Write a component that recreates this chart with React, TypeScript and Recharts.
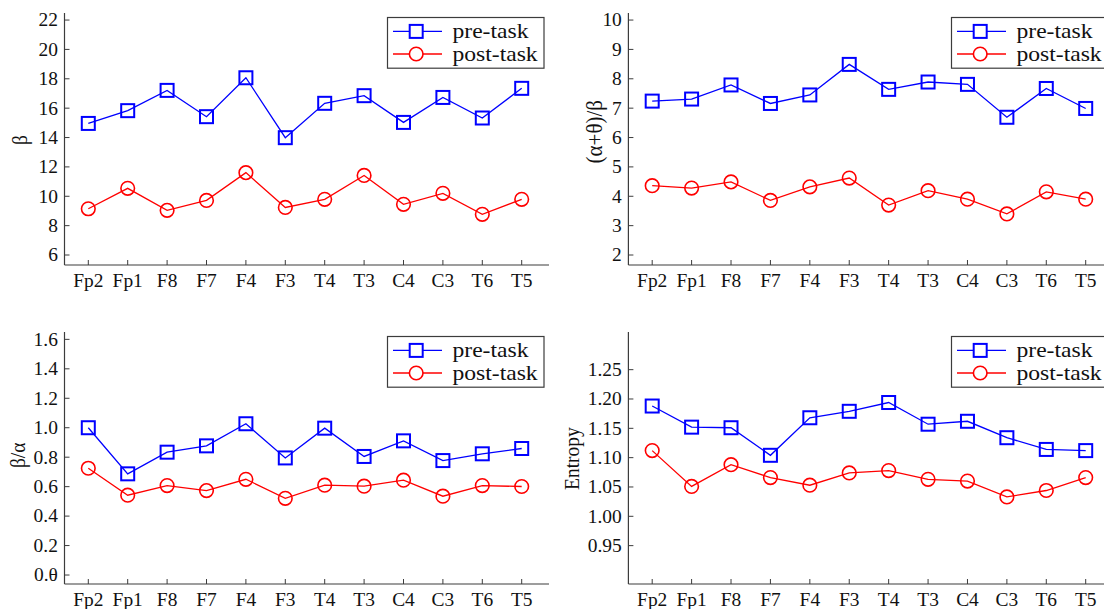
import React from 'react';
import { LineChart, Line, XAxis, YAxis, Legend } from 'recharts';

const categories = ['Fp2', 'Fp1', 'F8', 'F7', 'F4', 'F3', 'T4', 'T3', 'C4', 'C3', 'T6', 'T5'];

const betaPre = [14.96, 15.83, 17.21, 15.42, 18.07, 13.99, 16.33, 16.85, 15.03, 16.73, 15.33, 17.35];
const betaPost = [9.15, 10.54, 9.04, 9.72, 11.61, 9.24, 9.79, 11.42, 9.45, 10.2, 8.77, 9.79];

const ratioPre = [7.24, 7.31, 7.79, 7.16, 7.45, 8.49, 7.64, 7.89, 7.81, 6.69, 7.67, 6.99];
const ratioPost = [4.36, 4.28, 4.49, 3.86, 4.32, 4.62, 3.7, 4.19, 3.9, 3.4, 4.15, 3.9];

const baPre = [1.0, 0.687, 0.834, 0.877, 1.027, 0.795, 0.997, 0.805, 0.911, 0.777, 0.823, 0.859];
const baPost = [0.725, 0.542, 0.607, 0.573, 0.65, 0.521, 0.61, 0.603, 0.644, 0.535, 0.607, 0.601];

const entPre = [1.188, 1.152, 1.151, 1.104, 1.168, 1.179, 1.194, 1.157, 1.162, 1.134, 1.114, 1.112];
const entPost = [1.112, 1.051, 1.088, 1.066, 1.053, 1.074, 1.078, 1.063, 1.06, 1.033, 1.044, 1.066];

const betaTicks = [6, 8, 10, 12, 14, 16, 18, 20, 22];
const ratioTicks = [2, 3, 4, 5, 6, 7, 8, 9, 10];
const baTicks = [0, 0.2, 0.4, 0.6, 0.8, 1.0, 1.2, 1.4, 1.6];
const entTicks = [0.95, 1.0, 1.05, 1.1, 1.15, 1.2, 1.25];

const seriesNames = ['pre-task', 'post-task'];

const BLUE = '#0000ff';
const RED = '#ff0000';
const AX = '#3c3c3c';
const FONT = '"Liberation Serif", "Times New Roman", serif';
const TICK_FS = 18;
const SX = 1.08;

const XTick = (props: any) => {
  const { x, y, payload } = props;
  return (
    <text
      transform={`translate(${x},${y}) scale(${SX},1)`}
      textAnchor="middle"
      dy="0.71em"
      fontFamily={FONT}
      fontSize={TICK_FS}
      fill="#111"
    >
      {payload.value}
    </text>
  );
};

const makeYTick = (fmt: (v: number) => string) => (props: any) => {
  const { x, y, payload } = props;
  return (
    <text
      transform={`translate(${x},${y}) scale(${SX},1)`}
      textAnchor="end"
      dy="0.355em"
      fontFamily={FONT}
      fontSize={TICK_FS}
      fill="#111"
    >
      {fmt(payload.value)}
    </text>
  );
};

const SquareDot = (props: any) => {
  const { cx, cy, index } = props;
  if (cx == null || cy == null) return <g key={`s-${index}`} />;
  return (
    <rect
      key={`s-${index}`}
      x={cx - 6.5}
      y={cy - 6.5}
      width={13}
      height={13}
      fill="none"
      stroke={BLUE}
      strokeWidth={2}
    />
  );
};

const LegendBox = () => {
  const w = 157.5;
  const h = 51.7;
  const rows = [14.4, 37];
  return (
    <svg width={w} height={h} style={{ display: 'block', overflow: 'visible' }}>
      <rect x={0.5} y={0.5} width={w - 1} height={h - 1} fill="#fff" stroke={AX} strokeWidth={1.2} />
      <line x1={6} x2={55} y1={rows[0]} y2={rows[0]} stroke={BLUE} strokeWidth={1.3} />
      <rect x={29.2 - 6.5} y={rows[0] - 6.5} width={13} height={13} fill="#fff" stroke={BLUE} strokeWidth={2} />
      <line x1={6} x2={55} y1={rows[1]} y2={rows[1]} stroke={RED} strokeWidth={1.3} />
      <circle cx={29.2} cy={rows[1]} r={6.8} fill="#fff" stroke={RED} strokeWidth={1.6} />
      {seriesNames.map((n, i) => (
        <text
          key={n}
          transform={`translate(65.5,${rows[i]}) scale(1.18,1)`}
          dy="0.33em"
          fontFamily={FONT}
          fontSize={20}
          fill="#111"
        >
          {n}
        </text>
      ))}
    </svg>
  );
};

type PanelProps = {
  left: number;
  top: number;
  width: number;
  yw: number;
  pre: number[];
  post: number[];
  domain: [number, number];
  ticks: number[];
  fmt: (v: number) => string;
  ylabel: string;
  labelX: number;
  labelY: number;
  labelFs: number;
};

const Panel = (p: PanelProps) => {
  const data = categories.map((c, i) => ({ cat: c, pre: p.pre[i], post: p.post[i] }));
  const YTick = makeYTick(p.fmt);
  return (
    <div style={{ position: 'absolute', left: p.left, top: p.top }}>
      <LineChart width={p.width} height={300} data={data} margin={{ top: 13, right: 11, left: 0, bottom: 0 }}>
        <XAxis
          xAxisId="b"
          dataKey="cat"
          height={35}
          padding={{ left: 23.8, right: 27.3 }}
          interval={0}
          tickSize={-5}
          tickMargin={14.4}
          tick={<XTick />}
          axisLine={{ stroke: AX, strokeWidth: 1.2 }}
          tickLine={{ stroke: AX, strokeWidth: 1 }}
        />
        <XAxis
          xAxisId="t"
          orientation="top"
          dataKey="cat"
          height={0}
          tick={false}
          tickLine={false}
          axisLine={{ stroke: AX, strokeWidth: 1.2 }}
        />
        <YAxis
          yAxisId="l"
          type="number"
          width={p.yw}
          domain={p.domain}
          ticks={p.ticks}
          allowDataOverflow
          interval={0}
          tickSize={-5}
          tickMargin={11.6}
          tick={<YTick />}
          axisLine={{ stroke: AX, strokeWidth: 1.2 }}
          tickLine={{ stroke: AX, strokeWidth: 1 }}
          label={{
            content: () => (
              <text
                transform={`translate(${p.labelX},${p.labelY}) scale(${SX},1) rotate(-90)`}
                textAnchor="middle"
                dy="0.33em"
                fontFamily={FONT}
                fontSize={p.labelFs}
                fill="#111"
              >
                {p.ylabel}
              </text>
            ),
          }}
        />
        <YAxis
          yAxisId="r"
          orientation="right"
          type="number"
          width={0}
          domain={p.domain}
          allowDataOverflow
          tick={false}
          tickLine={false}
          axisLine={{ stroke: AX, strokeWidth: 1.2 }}
        />
        <Legend
          layout="horizontal"
          verticalAlign="middle"
          align="center"
          content={() => <LegendBox />}
          wrapperStyle={{ position: 'absolute', left: p.yw + 322.4, top: 17.3, width: 157.5, height: 51.7, margin: 0, padding: 0 }}
        />
        <Line
          xAxisId="b"
          yAxisId="l"
          dataKey="pre"
          name={seriesNames[0]}
          stroke={BLUE}
          strokeWidth={1.3}
          dot={SquareDot}
          activeDot={false}
          isAnimationActive={false}
        />
        <Line
          xAxisId="b"
          yAxisId="l"
          dataKey="post"
          name={seriesNames[1]}
          stroke={RED}
          strokeWidth={1.3}
          dot={{ r: 6.8, stroke: RED, strokeWidth: 1.6, fill: 'none' }}
          activeDot={false}
          isAnimationActive={false}
        />
      </LineChart>
    </div>
  );
};

export default function App() {
  return (
    <div
      style={{
        position: 'absolute',
        left: 0,
        top: 0,
        width: 1104,
        height: 609,
        overflow: 'hidden',
        background: '#fff',
      }}
    >
      <Panel
        left={0}
        top={0}
        width={560}
        yw={64.5}
        pre={betaPre}
        post={betaPost}
        domain={[5.32, 22.48]}
        ticks={betaTicks}
        fmt={(v) => String(v)}
        ylabel="β"
        labelX={19.6}
        labelY={140}
        labelFs={19.5}
      />
      <Panel
        left={560}
        top={0}
        width={564}
        yw={68.4}
        pre={ratioPre}
        post={ratioPost}
        domain={[1.66, 10.24]}
        ticks={ratioTicks}
        fmt={(v) => String(v)}
        ylabel="(α+θ)/β"
        labelX={34.7}
        labelY={131.7}
        labelFs={21}
      />
      <Panel
        left={0}
        top={318.7}
        width={560}
        yw={64.5}
        pre={baPre}
        post={baPost}
        domain={[-0.061, 1.65]}
        ticks={baTicks}
        fmt={(v) => (Math.abs(v) < 1e-9 ? '0.θ' : v.toFixed(1))}
        ylabel="β/α"
        labelX={17.9}
        labelY={136.3}
        labelFs={19.5}
      />
      <Panel
        left={560}
        top={318.7}
        width={564}
        yw={68.4}
        pre={entPre}
        post={entPost}
        domain={[0.8846, 1.3142]}
        ticks={entTicks}
        fmt={(v) => v.toFixed(2)}
        ylabel="Entropy"
        labelX={12}
        labelY={139.6}
        labelFs={19.5}
      />
    </div>
  );
}
